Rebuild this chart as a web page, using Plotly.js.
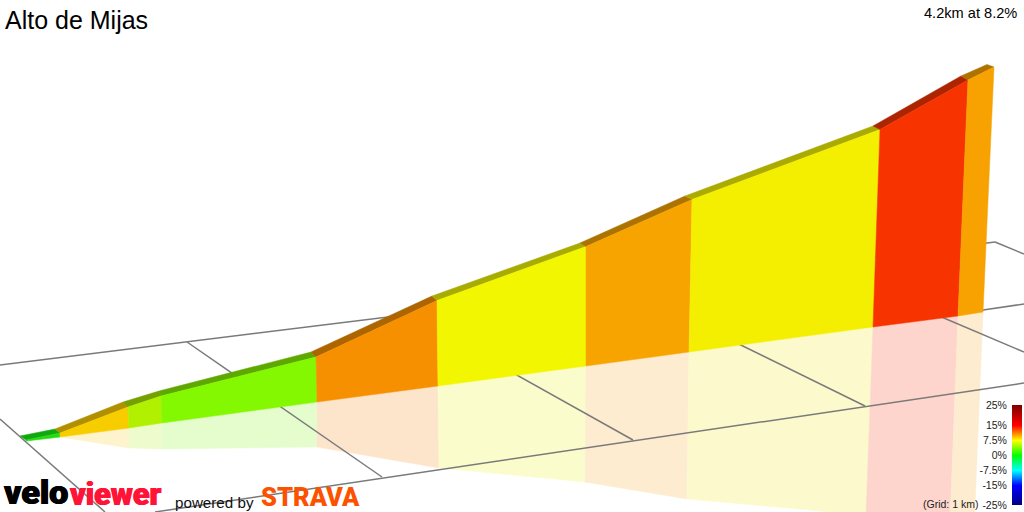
<!DOCTYPE html>
<html>
<head>
<meta charset="utf-8">
<script src="https://cdn.plot.ly/plotly-3.0.1.min.js"></script>
<style>html,body{margin:0;padding:0;background:#fff}#c{width:1024px;height:512px}</style>
</head>
<body>
<div id="c"></div>
<script>
// Wall outline, one value per section boundary
var backTopX  = [20,55,123,159,311,432,580,685,873,961,987];
var backTopY  = [436,429,402,391,352,296,243,196,126,76,64.5];
var frontTopX = [26,60,128,161,316,437,586,692,880,968,994];
var frontTopY = [440,433,407,396,357,300.5,246.5,199.5,129.5,80,67];
var baseX     = [26,60,129,162,317,438,586,689,873,958,983];
var baseY     = [441,437,428,423,402,386,366,352,327,316,312];
var mirrorX   = [26,60,129,163,317,439,585,687,866,950,974];
var mirrorY   = [441,437,448,449,447,468,482,499,515,522,530];
// One colour per section
var faceColors = ['#22dc10','#f7cd00','#b0f000','#84f800','#f79000','#f2f600','#f7a400','#f4ef00','#f73400','#f7a200'];
var bandColors = ['#11a80f','#b08f00','#75a000','#5ea800','#ad6500','#a9ac00','#ad7300','#abaa00','#ad2400','#ad7200'];
var mirrorColors = ['#d5f8cf','#fdf3cc','#eefbcc','#e5fdcc','#fde5cc','#fbfccc','#fdecd0','#fcfacc','#fed5cc','#fdeccf'];
// Grid lines, each as start and end
var gridX = [[0,987],[987,995],[995,1024],[155,1024],[983,1024],[0,105],[187,382],[490,633],[700,865],[925,1024]];
var gridY = [[365,243],[243,242],[242,254],[512,383],[310,304],[419,512],[342,477],[360,440],[325,406],[310,352]];
// Gradient key
var keyLevels = [-25,-20,-15,-10,-7.5,-5,0,5,7.5,10,15,20,25];
var keyTicks = [25,15,7.5,0,-7.5,-15,-25];
var keyLabels = ['25%','15%','7.5%','0%','-7.5%','-15%','-25%'];
var keyScale = [[0,'#00007f'],[0.2,'#0000ff'],[0.35,'#00ffff'],[0.5,'#00ff00'],[0.65,'#ffff00'],[0.8,'#ff0000'],[1,'#7f0000']];

var traces = [];
function poly(xs,ys,col){
  traces.push({type:'scatter',mode:'lines',x:xs,y:ys,fill:'toself',fillcolor:col,line:{color:col,width:0.5},hoverinfo:'skip',showlegend:false});
}
faceColors.forEach(function(c,i){
  poly([baseX[i],baseX[i+1],mirrorX[i+1],mirrorX[i],baseX[i]],[baseY[i],baseY[i+1],mirrorY[i+1],mirrorY[i],baseY[i]],mirrorColors[i]);
});
gridX.forEach(function(xs,i){
  traces.push({type:'scatter',mode:'lines',x:xs,y:gridY[i],line:{color:'#7a7a7a',width:1.5},hoverinfo:'skip',showlegend:false});
});
faceColors.forEach(function(c,i){
  poly([backTopX[i],backTopX[i+1],frontTopX[i+1],frontTopX[i],backTopX[i]],[backTopY[i],backTopY[i+1],frontTopY[i+1],frontTopY[i],backTopY[i]],bandColors[i]);
  poly([frontTopX[i],frontTopX[i+1],baseX[i+1],baseX[i],frontTopX[i]],[frontTopY[i],frontTopY[i+1],baseY[i+1],baseY[i],frontTopY[i]],c);
});
traces.push({type:'heatmap',xaxis:'x2',yaxis:'y2',x:[0,1],y:keyLevels,
  z:keyLevels.map(function(v){return [v,v];}),zmin:-25,zmax:25,zsmooth:'best',
  colorscale:keyScale,showscale:false,hoverinfo:'skip'});

var layout = {
  width:1024,height:512,margin:{l:0,r:0,t:0,b:0,pad:0},
  paper_bgcolor:'#fff',plot_bgcolor:'#fff',showlegend:false,
  title:{text:'Alto de Mijas',x:5/1024,xanchor:'left',xref:'paper',y:1-20/512,yanchor:'middle',yref:'paper',
    font:{family:'Liberation Sans',size:25,color:'#000'},automargin:false},
  xaxis:{visible:false,range:[0,1024],domain:[0,1]},
  yaxis:{visible:false,range:[512,0],domain:[0,1]},
  xaxis2:{visible:false,range:[0,1],domain:[1012/1024,1022/1024],anchor:'y2'},
  yaxis2:{range:[-25,25],domain:[7/512,107/512],anchor:'x2',side:'left',showgrid:false,zeroline:false,showline:false,
    tickmode:'array',tickvals:keyTicks,ticktext:keyLabels,ticks:'outside',ticklen:2,tickcolor:'rgba(0,0,0,0)',
    tickfont:{family:'Liberation Sans',size:10.5,color:'#222'}},
  annotations:[
    {text:'4.2km at 8.2%',x:1019,y:13,xref:'x',yref:'y',xanchor:'right',yanchor:'middle',showarrow:false,
      font:{family:'Liberation Sans',size:14.6,color:'#000'}},
    {text:'(Grid: 1 km)',x:980,y:504,xref:'x',yref:'y',xanchor:'right',yanchor:'middle',showarrow:false,
      font:{family:'Liberation Sans',size:10.5,color:'#222'}},
    {text:'velo',x:4,y:512,xref:'x',yref:'y',xanchor:'left',yanchor:'bottom',showarrow:false,borderpad:0,borderwidth:0,
      font:{family:'Roboto',size:34,weight:900,color:'#000',shadow:'0.6px 0 0 #000,-0.6px 0 0 #000'}},
    {text:'viewer',x:70,y:512,xref:'x',yref:'y',xanchor:'left',yanchor:'bottom',showarrow:false,borderpad:0,borderwidth:0,
      font:{family:'Roboto',size:30.5,weight:900,color:'#ff1438',shadow:'0.6px 0 0 #ff1438,-0.6px 0 0 #ff1438'}},
    {text:'powered by',x:173,y:502,xref:'x',yref:'y',xanchor:'left',yanchor:'middle',showarrow:false,
      font:{family:'Liberation Sans',size:15.2,color:'#111'}},
    {text:'STRAVA',x:261,y:512,xref:'x',yref:'y',xanchor:'left',yanchor:'bottom',showarrow:false,borderpad:0,borderwidth:0,
      font:{family:'Roboto',size:25.5,weight:900,color:'#fc5200'}}
  ]
};
Plotly.newPlot('c',traces,layout,{displayModeBar:false,staticPlot:true});
</script>
</body>
</html>
